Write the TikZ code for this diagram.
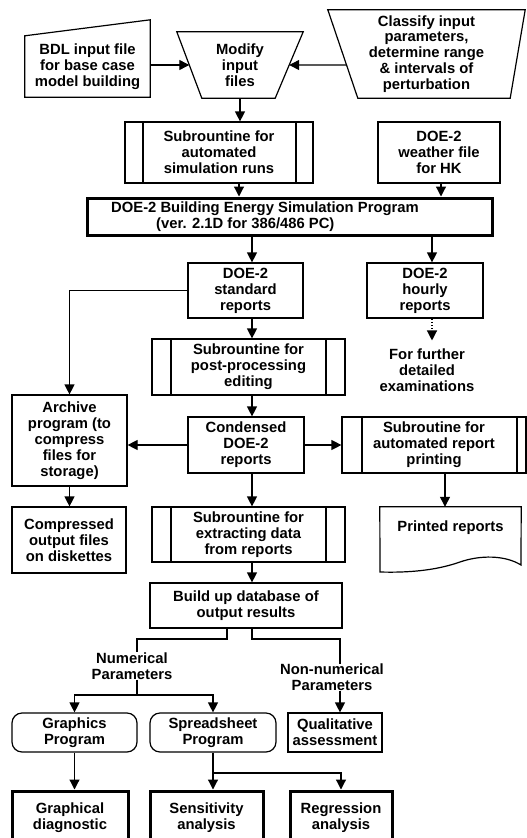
\documentclass[tikz,border=0pt]{standalone}
\usepackage{fontspec}
\setmainfont{Liberation Sans}
\usetikzlibrary{arrows.meta,calc}
\begin{document}
\begin{tikzpicture}[x=1pt,y=-1pt,
  base/.style={font=\fontsize{14.8}{15.9}\selectfont\bfseries, align=center, inner sep=0pt},
  sz/.style 2 args={minimum width=#1pt, minimum height=#2pt},
  box/.style={base, draw, line width=1.2pt},
  thickbox/.style={base, draw, line width=3pt},
  rbox/.style={box, rounded corners=10pt},
  subr/.style 2 args={box, path picture={
     \draw[line width=1.2pt] ([xshift=#1pt]path picture bounding box.north west) -- ([xshift=#1pt]path picture bounding box.south west);
     \draw[line width=1.2pt] ([xshift=-#2pt]path picture bounding box.north east) -- ([xshift=-#2pt]path picture bounding box.south east);}},
  shapeline/.style={line width=1.2pt, line join=miter},
  arr/.style={line width=1.2pt, -{Triangle[width=10pt,length=10pt]}},
  ln/.style={line width=1.2pt},
]
\useasboundingbox (0,0) rectangle (527,838);
\clip (0,0) rectangle (527,838);

% top row
\node[base, sz={125}{61}] (bdl) at (87.5,66.5) {BDL input file\\for base case\\model building};
\draw[shapeline] (bdl.south west) -- (bdl.north west) -- ($(bdl.north east)+(0,-16)$) -- (bdl.south east) -- cycle;

\node[base, sz={126}{66}] (mod) at (240,65) {Modify\\input\\files};
\draw[shapeline] (mod.north west) -- (mod.north east) -- ($(mod.south east)+(-28,0)$) -- ($(mod.south west)+(25,0)$) -- cycle;
\coordinate (modL) at ($(mod.west)+(12.5,0)$);
\coordinate (modR) at ($(mod.east)+(-14,0)$);

\node[base, sz={197}{88}] (cls) at (426.5,54) {Classify input\\parameters,\\determine range\\\& intervals of\\perturbation};
\draw[shapeline] (cls.north west) -- (cls.north east) -- ($(cls.south east)+(-15,0)$) -- ($(cls.south west)+(30,0)$) -- cycle;
\coordinate (clsL) at ($(cls.north west)!0.625!(cls.south west)+(18.75,0)$);

\draw[arr] (bdl.east |- modL) -- (modL);
\draw[arr] (clsL) -- (modR);

% second row
\node[subr={18}{17}, sz={188}{61}] (subsim) at (219,152.5) {Subrountine for\\automated\\simulation runs};
\node[box, sz={122}{61}] (weather) at (439,152.5) {DOE-2\\weather file\\for HK};
\draw[arr] (mod.south) -- (mod.south |- subsim.north);

% main program
\node[thickbox, sz={405}{37}] (main) at (289.5,216.5) {};
\node[base, align=left, anchor=west] (maintxt) at (111,216.5) {DOE-2 Building Energy Simulation Program\\\hspace*{45pt}(ver. 2.1D for 386/486 PC)};
\coordinate (sx) at (239,0);
\coordinate (wx) at (441,0);
\draw[arr] (subsim.south -| sx) -- (main.north -| sx);
\draw[arr] (weather.south -| wx) -- (main.north -| wx);

% reports
\coordinate (spine) at (252,0);
\coordinate (hx) at (432,0);
\node[box, sz={115}{55}] (std) at (245.5,290.5) {DOE-2\\standard\\reports};
\node[box, sz={116}{55}] (hourly) at (425,290.5) {DOE-2\\hourly\\reports};
\draw[arr] (main.south -| spine) -- (std.north -| spine);
\draw[arr] (main.south -| hx) -- (hourly.north -| hx);
\node[base] (further) at (427,370) {For further\\detailed\\examinations};
\draw[arr, dotted] (hourly.south -| hx) -- ($(further.north -| hx)+(0,-8)$);

\node[subr={19}{19}, sz={193}{56}] (post) at (248.5,367) {Subrountine for\\post-processing\\editing};
\node[box, sz={116}{56}] (cond) at (246,445) {Condensed\\DOE-2\\reports};
\node[box, sz={115}{91}] (archive) at (69.5,440.5) {Archive\\program (to\\compress\\files for\\storage)};
\node[subr={20}{9}, sz={184}{56}] (report) at (434,445) {Subroutine for\\automated report\\printing};

\draw[arr] (std.west) -| (archive.north);
\draw[arr] (std.south -| spine) -- (post.north -| spine);
\draw[arr] (post.south -| spine) -- (cond.north -| spine);
\draw[arr] (cond.west) -- (archive.east |- cond.west);
\draw[arr] (cond.east) -- (report.west |- cond.east);

\node[base, sz={141}{41}] (printed) at (450.5,527.5) {Printed reports};
\draw[shapeline] (380,572) -- (printed.north west) -- (printed.north east) -- (521,565)
  .. controls (505,555) and (480,555) .. (460,562) .. controls (440,569) and (415,573) .. (380,572) -- cycle;
\coordinate (px) at (445,0);
\draw[arr] (report.south -| px) -- (printed.north -| px);

\node[box, sz={114}{66}] (compr) at (69,540) {Compressed\\output files\\on diskettes};
\draw[arr] (archive.south) -- (archive.south |- compr.north);

\node[subr={19}{19}, sz={193}{55}] (extr) at (248.5,534.5) {Subrountine for\\extracting data\\from reports};
\draw[arr] (cond.south -| spine) -- (extr.north -| spine);
\node[box, sz={192}{45}] (build) at (246,605.5) {Build up database of\\output results};
\draw[arr] (extr.south -| spine) -- (build.north -| spine);

% parameters branches
\node[base] (num) at (132,666) {Numerical\\Parameters};
\node[base] (nonnum) at (332,677.5) {Non-numerical\\Parameters};
\coordinate (bl) at (227,639);
\coordinate (br) at (252,639);
\coordinate (nx) at (137,0);
\coordinate (nnx) at (340,0);
\draw[ln] (build.south -| bl) -- (bl) -| (num.north -| nx);
\draw[ln] (build.south -| br) -- (br) -| (nonnum.north -| nnx);

\node[rbox, sz={125}{39}] (graphics) at (74.5,732.5) {Graphics\\Program};
\node[rbox, sz={126}{39}] (spread) at (213,732.5) {Spreadsheet\\Program};
\node[box, sz={94}{39}] (qual) at (335,732.5) {Qualitative\\assessment};

\coordinate (nj) at (137,695);
\draw[ln] (num.south -| nx) -- (nj);
\draw[arr] (nj) -| (graphics.north);
\draw[arr] (nj) -| (spread.north);
\draw[arr] (nonnum.south -| nnx) -- (qual.north -| nnx);

\node[thickbox, sz={116}{54}] (gdiag) at (70,818) {Graphical\\diagnostic};
\node[thickbox, sz={113}{54}] (sens) at (206.5,818) {Sensitivity\\analysis};
\node[thickbox, sz={102}{54}] (regr) at (341,818) {Regression\\analysis};

\draw[arr] (graphics.south) -- (graphics.south |- gdiag.north);
\draw[arr] (spread.south) -- (spread.south |- sens.north);
\coordinate (sj) at (213,773);
\draw[arr] (sj) -| (regr.north);
\end{tikzpicture}
\end{document}
